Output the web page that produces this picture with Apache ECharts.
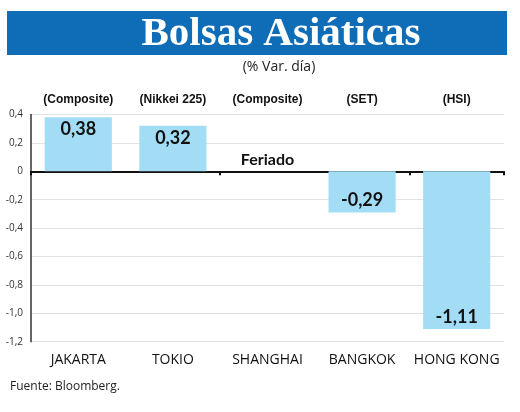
<!DOCTYPE html>
<html><head><meta charset="utf-8">
<script src="https://cdn.jsdelivr.net/npm/echarts@6/dist/echarts.min.js"></script>
<style>html,body{margin:0;padding:0;background:#fff}#c{width:520px;height:412px}</style>
</head><body><div id="c"></div>
<script>
var cities = ['JAKARTA', 'TOKIO', 'SHANGHAI', 'BANGKOK', 'HONG KONG'];
var indices = ['(Composite)', '(Nikkei 225)', '(Composite)', '(SET)', '(HSI)'];
var values = [0.38, 0.32, 0, -0.29, -1.11];
var notes = ['', '', 'Feriado', '', ''];
var yTicks = { min: -1.2, max: 0.4, step: 0.2 };

function fmt(v) {
  if (Math.abs(v) < 1e-9) return '0';
  return v.toFixed(1).replace('.', ',');
}
function fmt2(v) { return v.toFixed(2).replace('.', ','); }

var barData = values.map(function (v, i) {
  if (notes[i]) {
    return {
      value: v,
      label: { show: true, position: 'top', distance: 3, formatter: notes[i],
        fontSize: 16, fontWeight: 'bold', color: '#111', fontFamily: 'Lato' }
    };
  }
  return {
    value: v,
    label: { show: true, position: v >= 0 ? 'insideTop' : 'insideBottom', distance: 3,
      formatter: fmt2(v), fontSize: 18, fontWeight: 'bold', color: '#111', fontFamily: 'Lato' }
  };
});

var chart = echarts.init(document.getElementById('c'), null, { renderer: 'canvas' });
chart.setOption({
  animation: false,
  graphic: [
    { type: 'rect', shape: { x: 7, y: 11, width: 500, height: 44 }, style: { fill: '#0f6cb6' } },
    { type: 'text', x: 281, y: 34, style: { text: 'Bolsas Asiáticas', fill: '#fff',
      font: 'bold 41px "Liberation Serif"', textAlign: 'center', textVerticalAlign: 'middle' } },
    { type: 'text', x: 279, y: 67, style: { text: '(% Var. día)', fill: '#222',
      font: '14px "Open Sans"', textAlign: 'center', textVerticalAlign: 'middle' } },
    { type: 'text', x: 10, y: 387, style: { text: 'Fuente: Bloomberg.', fill: '#222',
      font: '12px "Open Sans"', textAlign: 'left', textVerticalAlign: 'middle' } }
  ],
  grid: { left: 31, right: 16, top: 114.5, bottom: 70.3, containLabel: false },
  xAxis: [
    { type: 'category', data: cities, position: 'bottom',
      axisLine: { show: true, onZero: true, lineStyle: { color: '#111', width: 2 } },
      axisTick: { show: true, length: 4, lineStyle: { color: '#111', width: 2 } },
      axisLabel: { show: false }, splitLine: { show: false } },
    { type: 'category', data: cities, position: 'bottom',
      axisLine: { show: false, onZero: false }, axisTick: { show: false },
      axisLabel: { show: true, interval: 0, margin: 11, fontSize: 14, color: '#111', fontFamily: 'Open Sans' } },
    { type: 'category', data: indices, position: 'top',
      axisLine: { show: false, onZero: false }, axisTick: { show: false },
      axisLabel: { show: true, interval: 0, margin: 9, fontSize: 12, color: '#111', fontFamily: 'Liberation Sans Narrow, Liberation Sans', fontWeight: 'bold' } }
  ],
  yAxis: {
    type: 'value', min: yTicks.min, max: yTicks.max, interval: yTicks.step,
    axisLine: { show: true, lineStyle: { color: '#333', width: 1.5 } },
    axisTick: { show: false },
    axisLabel: { formatter: fmt, fontSize: 10, color: '#333', margin: 8, fontFamily: 'Open Sans' },
    splitLine: { lineStyle: { color: '#e2e2e2', width: 1 } }
  },
  series: [{
    type: 'bar', xAxisIndex: 0, data: barData, barCategoryGap: '29%',
    itemStyle: { color: '#a3ddf5' }, z: 1
  }]
});
</script></body></html>
